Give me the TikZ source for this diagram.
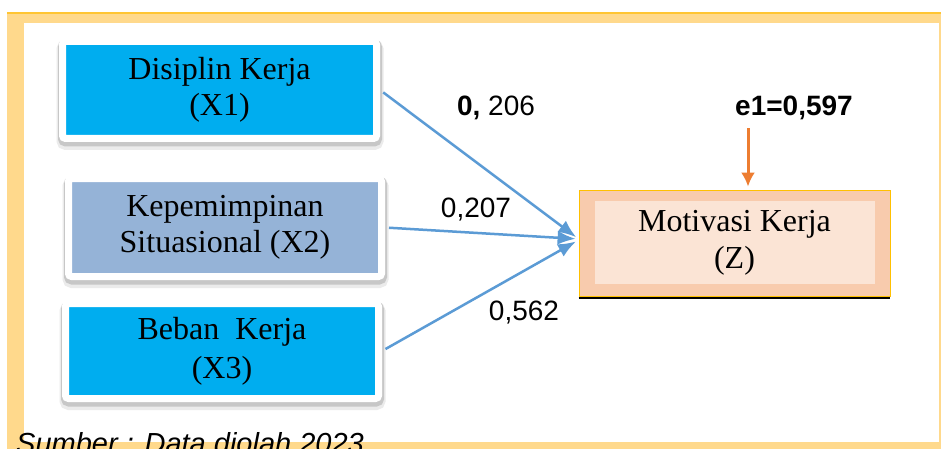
\documentclass[tikz,border=0pt]{standalone}
\usepackage{fontspec}
\setmainfont{Liberation Serif}
\setsansfont{Liberation Sans}
\usepackage{xcolor}
\definecolor{band}{HTML}{FFD98C}
\definecolor{bandedge}{HTML}{FFC533}
\definecolor{cyanbox}{HTML}{00ADEF}
\definecolor{cyanedge}{HTML}{0086BF}
\definecolor{cyanlight}{HTML}{33C4F5}
\definecolor{steelbox}{HTML}{95B3D7}
\definecolor{steeledge}{HTML}{6F92BF}
\definecolor{steellight}{HTML}{B3C9E3}
\definecolor{pathblue}{HTML}{5B9BD5}
\definecolor{salmon}{HTML}{F8CBAD}
\definecolor{salmonlight}{HTML}{FBE4D5}
\definecolor{gold}{HTML}{FFC000}
\definecolor{errorange}{HTML}{ED7D31}
\usetikzlibrary{arrows.meta,shadows,positioning,calc}
\tikzset{
    x=1pt, y=-1pt,
    var/.style ={rectangle, draw=white, line width=7pt, rounded corners=3pt,
        align=center, font=\fontsize{32}{36}\selectfont,
        preaction={draw=black!8, line width=13pt, transform canvas={xshift=0.5pt, yshift=-5pt}},
        preaction={draw=black!22, line width=10pt, transform canvas={xshift=0.5pt, yshift=-3pt}}},
    bevel/.style 2 args={path picture={
        \draw[#2, line width=5pt] (path picture bounding box.south west) -- (path picture bounding box.north west)
            -- (path picture bounding box.north east);
        \draw[#1, line width=5pt] (path picture bounding box.south west) -- (path picture bounding box.south east)
            -- (path picture bounding box.north east);}},
    dep/.style ={rectangle, fill=salmon, draw=gold, line width=0.8pt,
        minimum width=311pt, minimum height=106pt, align=center,
        font=\fontsize{32}{37}\selectfont,
        path picture={\fill[salmonlight] ([shift={(16pt,-11pt)}]path picture bounding box.north west)
            rectangle ([shift={(-15pt,12pt)}]path picture bounding box.south east);}},
    coef/.style={font=\sffamily\fontsize{28}{30}\selectfont},
    effect/.style={-{Latex[length=18pt,width=14pt]}, pathblue, line width=2.5pt, shorten <=4pt, shorten >=3pt},
    resid/.style={-{Latex[length=14pt,width=14pt]}, errorange, line width=3pt, shorten <=5pt, shorten >=3pt}
}

\begin{document}
\begin{tikzpicture}
    \useasboundingbox (0,0) rectangle (941,449);
    % frame
    \fill[band] (7,12) rectangle (941,449);
    \fill[white] (24,23) rectangle (939,442);
    \draw[bandedge, line width=1.5pt] (7,13) -- (941,13);

    \node[var, fill=cyanbox, bevel={cyanedge}{cyanlight}, minimum width=314pt, minimum height=97pt] (X1) at (219.5,90) {Disiplin Kerja\\(X1)};
    \node[var, fill=steelbox, bevel={steeledge}{steellight}, minimum width=313pt, minimum height=98pt] (X2) at (225,227.5) {Kepemimpinan\\Situasional (X2)};
    \node[var, fill=cyanbox, bevel={cyanedge}{cyanlight}, minimum width=313pt, minimum height=95pt, font=\fontsize{32}{39}\selectfont] (X3) at (222,351) {Beban\ \ Kerja\\(X3)};
    \node[dep] (Z) at (734.5,243) {Motivasi Kerja\\(Z)};
    \draw[black, line width=2.5pt] ([yshift=-1.5pt]Z.south west) -- ([yshift=-1.5pt]Z.south east);

    \node[coef] (e1) at (794,108) {\textbf{e1=0,597}};
    \node[coef] (b1) at (496,108) {\textbf{0,} 206};
    \node[coef] (b2) at (476,210) {0,207};
    \node[coef] (b3) at (524,313) {0,562};

    \draw[effect] (X1.east) -- ([yshift=4pt]Z.west);
    \draw[effect] (X2.east) -- ([yshift=4pt]Z.west);
    \draw[effect] (X3.east) -- ([yshift=3pt]Z.west);
    \draw[resid] ([xshift=13.5pt]Z.north |- e1.south) -- ([xshift=13.5pt]Z.north);

    \node[anchor=base west, inner sep=0pt, font=\sffamily\itshape\fontsize{29}{30}\selectfont] (src) at (16,453) {Sumber : Data diolah 2023};
\end{tikzpicture}
\end{document}
